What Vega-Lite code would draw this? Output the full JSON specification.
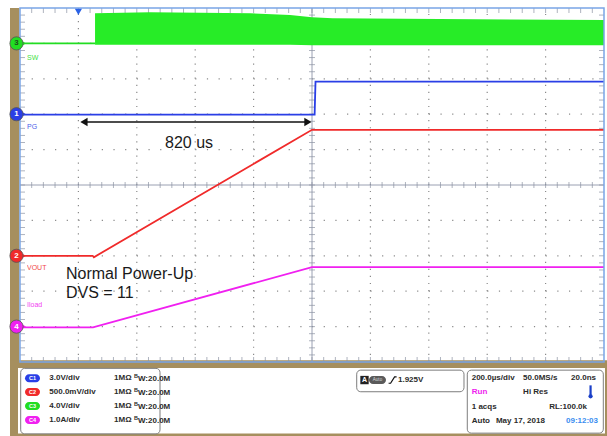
{
  "$schema": "https://vega.github.io/schema/vega-lite/v6.json",
  "width": 584,
  "height": 354,
  "autosize": {"type": "none"},
  "padding": {"left": 20, "top": 8, "right": 3, "bottom": 74},
  "background": "white",
  "config": {"view": {"stroke": null}},
  "datasets": {
    "frame": [
      {"t1": -34.25, "t2": -2, "v1": 5.0, "v2": -7.2},
      {"t1": -34.25, "t2": 2020, "v1": -4.95, "v2": -7.2}
    ],
    "panel": [{"t1": -6.85, "t2": 2003.4, "v1": -5.17, "v2": -7.02}],
    "boxes": [
      {"t1": 2.4, "t2": 479.5, "v1": -5.18, "v2": -7.03},
      {"t1": 1153.1, "t2": 1520.5, "v1": -5.23, "v2": -5.84},
      {"t1": 1531.8, "t2": 1997.6, "v1": -5.23, "v2": -7.01}
    ],
    "vgrid": [{"t": 200}, {"t": 400}, {"t": 600}, {"t": 800}, {"t": 1200}, {"t": 1400}, {"t": 1600}, {"t": 1800}],
    "hgrid": [{"v": -4}, {"v": -3}, {"v": -2}, {"v": -1}, {"v": 1}, {"v": 2}, {"v": 3}, {"v": 4}],
    "xticks": [{"t":40},{"t":80},{"t":120},{"t":160},{"t":200},{"t":240},{"t":280},{"t":320},{"t":360},{"t":400},{"t":440},{"t":480},{"t":520},{"t":560},{"t":600},{"t":640},{"t":680},{"t":720},{"t":760},{"t":800},{"t":840},{"t":880},{"t":920},{"t":960},{"t":1000},{"t":1040},{"t":1080},{"t":1120},{"t":1160},{"t":1200},{"t":1240},{"t":1280},{"t":1320},{"t":1360},{"t":1400},{"t":1440},{"t":1480},{"t":1520},{"t":1560},{"t":1600},{"t":1640},{"t":1680},{"t":1720},{"t":1760},{"t":1800},{"t":1840},{"t":1880},{"t":1920},{"t":1960}],
    "yticks": [{"v":-4.8},{"v":-4.6},{"v":-4.4},{"v":-4.2},{"v":-4},{"v":-3.8},{"v":-3.6},{"v":-3.4},{"v":-3.2},{"v":-3},{"v":-2.8},{"v":-2.6},{"v":-2.4},{"v":-2.2},{"v":-2},{"v":-1.8},{"v":-1.6},{"v":-1.4},{"v":-1.2},{"v":-1},{"v":-0.8},{"v":-0.6},{"v":-0.4},{"v":-0.2},{"v":0},{"v":0.2},{"v":0.4},{"v":0.6},{"v":0.8},{"v":1},{"v":1.2},{"v":1.4},{"v":1.6},{"v":1.8},{"v":2},{"v":2.2},{"v":2.4},{"v":2.6},{"v":2.8},{"v":3},{"v":3.2},{"v":3.4},{"v":3.6},{"v":3.8},{"v":4},{"v":4.2},{"v":4.4},{"v":4.6},{"v":4.8}],
    "swband": [
      {"t": 257, "top": 4.85, "bot": 3.96},
      {"t": 445, "top": 4.88, "bot": 3.96},
      {"t": 788, "top": 4.85, "bot": 3.96},
      {"t": 925, "top": 4.8, "bot": 3.96},
      {"t": 1000, "top": 4.74, "bot": 3.95},
      {"t": 1070, "top": 4.71, "bot": 3.95},
      {"t": 2000, "top": 4.66, "bot": 3.95}
    ],
    "traces": [
      {"ch": "SW", "t": 0, "v": 4.0},
      {"ch": "SW", "t": 257, "v": 4.0},
      {"ch": "PG", "t": 0, "v": 1.99},
      {"ch": "PG", "t": 1009, "v": 1.99},
      {"ch": "PG", "t": 1012, "v": 2.92},
      {"ch": "PG", "t": 2000, "v": 2.92},
      {"ch": "VOUT", "t": 0, "v": -2.0},
      {"ch": "VOUT", "t": 249, "v": -2.0},
      {"ch": "VOUT", "t": 253, "v": -2.04},
      {"ch": "VOUT", "t": 1000, "v": 1.56},
      {"ch": "VOUT", "t": 2000, "v": 1.56},
      {"ch": "Iload", "t": 0, "v": -4.02},
      {"ch": "Iload", "t": 250, "v": -4.02},
      {"ch": "Iload", "t": 1000, "v": -2.32},
      {"ch": "Iload", "t": 2000, "v": -2.32}
    ],
    "notes": [
      {"t": 496.6, "v": 1.19, "text": "820 us"},
      {"t": 157.5, "v": -2.51, "text": "Normal Power-Up"},
      {"t": 157.5, "v": -3.05, "text": "DVS = 11"}
    ],
    "chlabels": [
      {"ch": "SW", "t": 24, "v": 3.59, "text": "SW"},
      {"ch": "PG", "t": 24, "v": 1.63, "text": "PG"},
      {"ch": "VOUT", "t": 24, "v": -2.34, "text": "VOUT"},
      {"ch": "Iload", "t": 24, "v": -3.39, "text": "Iload"}
    ],
    "markers": [
      {"ch": "SW", "num": "3", "v": 4.0},
      {"ch": "PG", "num": "1", "v": 2.0},
      {"ch": "VOUT", "num": "2", "v": -2.0},
      {"ch": "Iload", "num": "4", "v": -4.0}
    ],
    "settings": [
      {"ch": "PG", "lab": "C1", "v": -5.46, "a": "3.0V/div"},
      {"ch": "VOUT", "lab": "C2", "v": -5.85, "a": "500.0mV/div"},
      {"ch": "SW", "lab": "C3", "v": -6.24, "a": "4.0V/div"},
      {"ch": "Iload", "lab": "C4", "v": -6.64, "a": "1.0A/div"}
    ],
    "infoLeft": [
      {"t": 1547, "v": -5.46, "text": "200.0µs/div", "k": "n"},
      {"t": 1723, "v": -5.46, "text": "50.0MS/s", "k": "n"},
      {"t": 1547, "v": -5.86, "text": "Run", "k": "run"},
      {"t": 1723, "v": -5.86, "text": "Hi Res", "k": "n"},
      {"t": 1547, "v": -6.26, "text": "1 acqs", "k": "n"},
      {"t": 1547, "v": -6.66, "text": "Auto", "k": "n"},
      {"t": 1630, "v": -6.66, "text": "May 17, 2018", "k": "n"},
      {"t": 1294.5, "v": -5.51, "text": "1.925V", "k": "n"}
    ],
    "infoRight": [
      {"t": 1972.6, "v": -5.46, "text": "20.0ns", "k": "n"},
      {"t": 1941.8, "v": -6.26, "text": "RL:100.0k", "k": "n"},
      {"t": 1979.5, "v": -6.66, "text": "09:12:03", "k": "time"}
    ]
  },
  "layer": [
    {
      "data": {"name": "frame"},
      "mark": {"type": "rect", "color": "#a68f5e"},
      "encoding": {
        "x": {"field": "t1", "type": "quantitative", "scale": {"domain": [0, 2000], "nice": false, "zero": false}, "axis": null},
        "x2": {"field": "t2"},
        "y": {"field": "v1", "type": "quantitative", "scale": {"domain": [-5, 5], "nice": false, "zero": false}, "axis": null},
        "y2": {"field": "v2"}
      }
    },
    {
      "data": {"name": "panel"},
      "mark": {"type": "rect", "color": "#ffffff"},
      "encoding": {
        "x": {"field": "t1", "type": "quantitative", "scale": {"domain": [0, 2000], "nice": false, "zero": false}, "axis": null},
        "x2": {"field": "t2"},
        "y": {"field": "v1", "type": "quantitative", "scale": {"domain": [-5, 5], "nice": false, "zero": false}, "axis": null},
        "y2": {"field": "v2"}
      }
    },
    {
      "data": {"name": "boxes"},
      "mark": {"type": "rect", "fill": "#ffffff", "stroke": "#7d7d7d", "strokeWidth": 1, "cornerRadius": 4},
      "encoding": {
        "x": {"field": "t1", "type": "quantitative", "scale": {"domain": [0, 2000], "nice": false, "zero": false}, "axis": null},
        "x2": {"field": "t2"},
        "y": {"field": "v1", "type": "quantitative", "scale": {"domain": [-5, 5], "nice": false, "zero": false}, "axis": null},
        "y2": {"field": "v2"}
      }
    },
    {
      "data": {"name": "vgrid"},
      "mark": {"type": "rule", "color": "#8a8a8a", "strokeWidth": 1.2, "strokeDash": [1.2, 5.88]},
      "encoding": {
        "x": {"field": "t", "type": "quantitative", "scale": {"domain": [0, 2000], "nice": false, "zero": false}, "axis": null},
        "y": {"datum": -5, "type": "quantitative", "scale": {"domain": [-5, 5], "nice": false, "zero": false}, "axis": null},
        "y2": {"datum": 5}
      }
    },
    {
      "data": {"name": "hgrid"},
      "mark": {"type": "rule", "color": "#8a8a8a", "strokeWidth": 1.2, "strokeDash": [1.2, 10.48]},
      "encoding": {
        "y": {"field": "v", "type": "quantitative", "scale": {"domain": [-5, 5], "nice": false, "zero": false}, "axis": null},
        "x": {"datum": 0, "type": "quantitative", "scale": {"domain": [0, 2000], "nice": false, "zero": false}, "axis": null},
        "x2": {"datum": 2000}
      }
    },
    {
      "data": {"values": [{}]},
      "mark": {"type": "rule", "color": "#9aa0b2", "strokeWidth": 1},
      "encoding": {
        "x": {"datum": 1000, "type": "quantitative", "scale": {"domain": [0, 2000], "nice": false, "zero": false}, "axis": null},
        "y": {"datum": -5, "type": "quantitative", "scale": {"domain": [-5, 5], "nice": false, "zero": false}, "axis": null},
        "y2": {"datum": 5}
      }
    },
    {
      "data": {"values": [{}]},
      "mark": {"type": "rule", "color": "#9aa0b2", "strokeWidth": 1},
      "encoding": {
        "y": {"datum": 0, "type": "quantitative", "scale": {"domain": [-5, 5], "nice": false, "zero": false}, "axis": null},
        "x": {"datum": 0, "type": "quantitative", "scale": {"domain": [0, 2000], "nice": false, "zero": false}, "axis": null},
        "x2": {"datum": 2000}
      }
    },
    {
      "data": {"name": "xticks"},
      "mark": {"type": "tick", "orient": "vertical", "thickness": 1, "yOffset": 2.5, "color": "#8c93a3"},
      "encoding": {
        "x": {"field": "t", "type": "quantitative", "scale": {"domain": [0, 2000], "nice": false, "zero": false}, "axis": null},
        "y": {"datum": 5, "type": "quantitative", "scale": {"domain": [-5, 5], "nice": false, "zero": false}, "axis": null},
        "size": {"value": 5}
      }
    },
    {
      "data": {"name": "xticks"},
      "mark": {"type": "tick", "orient": "vertical", "thickness": 1, "yOffset": -2.5, "color": "#8c93a3"},
      "encoding": {
        "x": {"field": "t", "type": "quantitative", "scale": {"domain": [0, 2000], "nice": false, "zero": false}, "axis": null},
        "y": {"datum": -5, "type": "quantitative", "scale": {"domain": [-5, 5], "nice": false, "zero": false}, "axis": null},
        "size": {"value": 5}
      }
    },
    {
      "data": {"name": "xticks"},
      "mark": {"type": "tick", "orient": "vertical", "thickness": 1, "color": "#8c93a3"},
      "encoding": {
        "x": {"field": "t", "type": "quantitative", "scale": {"domain": [0, 2000], "nice": false, "zero": false}, "axis": null},
        "y": {"datum": 0, "type": "quantitative", "scale": {"domain": [-5, 5], "nice": false, "zero": false}, "axis": null},
        "size": {"value": 6}
      }
    },
    {
      "data": {"name": "yticks"},
      "mark": {"type": "tick", "orient": "horizontal", "thickness": 1, "xOffset": 2.5, "color": "#8c93a3"},
      "encoding": {
        "y": {"field": "v", "type": "quantitative", "scale": {"domain": [-5, 5], "nice": false, "zero": false}, "axis": null},
        "x": {"datum": 0, "type": "quantitative", "scale": {"domain": [0, 2000], "nice": false, "zero": false}, "axis": null},
        "size": {"value": 5}
      }
    },
    {
      "data": {"name": "yticks"},
      "mark": {"type": "tick", "orient": "horizontal", "thickness": 1, "xOffset": -2.5, "color": "#8c93a3"},
      "encoding": {
        "y": {"field": "v", "type": "quantitative", "scale": {"domain": [-5, 5], "nice": false, "zero": false}, "axis": null},
        "x": {"datum": 2000, "type": "quantitative", "scale": {"domain": [0, 2000], "nice": false, "zero": false}, "axis": null},
        "size": {"value": 5}
      }
    },
    {
      "data": {"name": "yticks"},
      "mark": {"type": "tick", "orient": "horizontal", "thickness": 1, "color": "#8c93a3"},
      "encoding": {
        "y": {"field": "v", "type": "quantitative", "scale": {"domain": [-5, 5], "nice": false, "zero": false}, "axis": null},
        "x": {"datum": 1000, "type": "quantitative", "scale": {"domain": [0, 2000], "nice": false, "zero": false}, "axis": null},
        "size": {"value": 6}
      }
    },
    {
      "data": {"name": "swband"},
      "mark": {"type": "area", "color": "#27ec27", "opacity": 1},
      "encoding": {
        "x": {"field": "t", "type": "quantitative", "scale": {"domain": [0, 2000], "nice": false, "zero": false}, "axis": null},
        "y": {"field": "top", "type": "quantitative", "scale": {"domain": [-5, 5], "nice": false, "zero": false}, "axis": null},
        "y2": {"field": "bot"}
      }
    },
    {
      "data": {"name": "traces"},
      "mark": {"type": "line", "strokeWidth": 1.8},
      "encoding": {
        "x": {"field": "t", "type": "quantitative", "scale": {"domain": [0, 2000], "nice": false, "zero": false}, "axis": null},
        "y": {"field": "v", "type": "quantitative", "scale": {"domain": [-5, 5], "nice": false, "zero": false}, "axis": null},
        "color": {"field": "ch", "type": "nominal", "scale": {"domain": ["SW", "PG", "VOUT", "Iload"], "range": ["#22dd22", "#2a3fe6", "#f02a2a", "#f020f0"]}, "legend": null}
      }
    },
    {
      "data": {"values": [{}]},
      "mark": {"type": "rule", "color": "#111111", "strokeWidth": 1.5},
      "encoding": {
        "x": {"datum": 222, "type": "quantitative", "scale": {"domain": [0, 2000], "nice": false, "zero": false}, "axis": null},
        "x2": {"datum": 984},
        "y": {"datum": 1.78, "type": "quantitative", "scale": {"domain": [-5, 5], "nice": false, "zero": false}, "axis": null}
      }
    },
    {
      "data": {"values": [{}]},
      "mark": {"type": "point", "shape": "triangle-left", "filled": true, "size": 70, "color": "#111111", "opacity": 1},
      "encoding": {
        "x": {"datum": 219, "type": "quantitative", "scale": {"domain": [0, 2000], "nice": false, "zero": false}, "axis": null},
        "y": {"datum": 1.78, "type": "quantitative", "scale": {"domain": [-5, 5], "nice": false, "zero": false}, "axis": null}
      }
    },
    {
      "data": {"values": [{}]},
      "mark": {"type": "point", "shape": "triangle-right", "filled": true, "size": 70, "color": "#111111", "opacity": 1},
      "encoding": {
        "x": {"datum": 986, "type": "quantitative", "scale": {"domain": [0, 2000], "nice": false, "zero": false}, "axis": null},
        "y": {"datum": 1.78, "type": "quantitative", "scale": {"domain": [-5, 5], "nice": false, "zero": false}, "axis": null}
      }
    },
    {
      "data": {"name": "notes"},
      "mark": {"type": "text", "align": "left", "baseline": "middle", "font": "Liberation Sans, Arial, sans-serif", "fontSize": 16, "color": "#1a1a1a"},
      "encoding": {
        "x": {"field": "t", "type": "quantitative", "scale": {"domain": [0, 2000], "nice": false, "zero": false}, "axis": null},
        "y": {"field": "v", "type": "quantitative", "scale": {"domain": [-5, 5], "nice": false, "zero": false}, "axis": null},
        "text": {"field": "text"}
      }
    },
    {
      "data": {"name": "chlabels"},
      "mark": {"type": "text", "align": "left", "baseline": "middle", "font": "Liberation Sans Narrow, Liberation Sans, sans-serif", "fontSize": 7, "opacity": 0.85},
      "encoding": {
        "x": {"field": "t", "type": "quantitative", "scale": {"domain": [0, 2000], "nice": false, "zero": false}, "axis": null},
        "y": {"field": "v", "type": "quantitative", "scale": {"domain": [-5, 5], "nice": false, "zero": false}, "axis": null},
        "text": {"field": "text"},
        "color": {"field": "ch", "type": "nominal", "legend": null}
      }
    },
    {
      "data": {"values": [{}]},
      "mark": {"type": "rect", "fill": null, "stroke": "#7aa5e6", "strokeWidth": 1.5},
      "encoding": {
        "x": {"datum": 0, "type": "quantitative", "scale": {"domain": [0, 2000], "nice": false, "zero": false}, "axis": null},
        "x2": {"datum": 2000},
        "y": {"datum": -5, "type": "quantitative", "scale": {"domain": [-5, 5], "nice": false, "zero": false}, "axis": null},
        "y2": {"datum": 5}
      }
    },
    {
      "data": {"name": "markers"},
      "mark": {"type": "point", "shape": "triangle-right", "filled": true, "size": 18, "opacity": 1},
      "encoding": {
        "x": {"datum": 14, "type": "quantitative", "scale": {"domain": [0, 2000], "nice": false, "zero": false}, "axis": null},
        "y": {"field": "v", "type": "quantitative", "scale": {"domain": [-5, 5], "nice": false, "zero": false}, "axis": null},
        "color": {"field": "ch", "type": "nominal", "legend": null}
      }
    },
    {
      "data": {"name": "markers"},
      "mark": {"type": "point", "shape": "circle", "filled": true, "size": 175, "opacity": 1, "stroke": "#555555", "strokeWidth": 0.8},
      "encoding": {
        "x": {"datum": -12, "type": "quantitative", "scale": {"domain": [0, 2000], "nice": false, "zero": false}, "axis": null},
        "y": {"field": "v", "type": "quantitative", "scale": {"domain": [-5, 5], "nice": false, "zero": false}, "axis": null},
        "color": {"field": "ch", "type": "nominal", "legend": null}
      }
    },
    {
      "data": {"name": "markers"},
      "transform": [{"filter": "datum.ch != 'SW'"}],
      "mark": {"type": "text", "align": "center", "baseline": "middle", "font": "Liberation Sans, sans-serif", "fontSize": 8, "fontWeight": "bold", "color": "#ffffff"},
      "encoding": {
        "x": {"datum": -12, "type": "quantitative", "scale": {"domain": [0, 2000], "nice": false, "zero": false}, "axis": null},
        "y": {"field": "v", "type": "quantitative", "scale": {"domain": [-5, 5], "nice": false, "zero": false}, "axis": null},
        "text": {"field": "num"}
      }
    },
    {
      "data": {"name": "markers"},
      "transform": [{"filter": "datum.ch == 'SW'"}],
      "mark": {"type": "text", "align": "center", "baseline": "middle", "font": "Liberation Sans, sans-serif", "fontSize": 8, "fontWeight": "bold", "color": "#1d4d1d"},
      "encoding": {
        "x": {"datum": -12, "type": "quantitative", "scale": {"domain": [0, 2000], "nice": false, "zero": false}, "axis": null},
        "y": {"field": "v", "type": "quantitative", "scale": {"domain": [-5, 5], "nice": false, "zero": false}, "axis": null},
        "text": {"field": "num"}
      }
    },
    {
      "data": {"values": [{}]},
      "mark": {"type": "point", "shape": "triangle-down", "filled": true, "size": 50, "color": "#2a62e6", "opacity": 1},
      "encoding": {
        "x": {"datum": 200, "type": "quantitative", "scale": {"domain": [0, 2000], "nice": false, "zero": false}, "axis": null},
        "y": {"datum": 4.89, "type": "quantitative", "scale": {"domain": [-5, 5], "nice": false, "zero": false}, "axis": null}
      }
    },
    {
      "data": {"name": "settings"},
      "mark": {"type": "point", "shape": "M-0.467,-0.533L0.467,-0.533A0.533,0.533,0,0,1,0.467,0.533L-0.467,0.533A0.533,0.533,0,0,1,-0.467,-0.533Z", "filled": true, "size": 225, "opacity": 1},
      "encoding": {
        "x": {"datum": 42.8, "type": "quantitative", "scale": {"domain": [0, 2000], "nice": false, "zero": false}, "axis": null},
        "y": {"field": "v", "type": "quantitative", "scale": {"domain": [-5, 5], "nice": false, "zero": false}, "axis": null},
        "color": {"field": "ch", "type": "nominal", "legend": null}
      }
    },
    {
      "data": {"name": "settings"},
      "mark": {"type": "text", "align": "center", "baseline": "middle", "font": "Liberation Sans, sans-serif", "fontSize": 5.5, "fontWeight": "bold", "color": "#ffffff"},
      "encoding": {
        "x": {"datum": 42.8, "type": "quantitative", "scale": {"domain": [0, 2000], "nice": false, "zero": false}, "axis": null},
        "y": {"field": "v", "type": "quantitative", "scale": {"domain": [-5, 5], "nice": false, "zero": false}, "axis": null},
        "text": {"field": "lab"}
      }
    },
    {
      "data": {"name": "settings"},
      "mark": {"type": "text", "align": "left", "baseline": "middle", "font": "Liberation Sans Narrow, Arial Narrow, Liberation Sans, sans-serif", "fontSize": 8, "fontWeight": "bold", "color": "#2b2b2b"},
      "encoding": {
        "x": {"datum": 100.5, "type": "quantitative", "scale": {"domain": [0, 2000], "nice": false, "zero": false}, "axis": null},
        "y": {"field": "v", "type": "quantitative", "scale": {"domain": [-5, 5], "nice": false, "zero": false}, "axis": null},
        "text": {"field": "a"}
      }
    },
    {
      "data": {"name": "settings"},
      "mark": {"type": "text", "align": "left", "baseline": "middle", "font": "Liberation Sans Narrow, Arial Narrow, Liberation Sans, sans-serif", "fontSize": 8, "fontWeight": "bold", "color": "#2b2b2b"},
      "encoding": {
        "x": {"datum": 322, "type": "quantitative", "scale": {"domain": [0, 2000], "nice": false, "zero": false}, "axis": null},
        "y": {"field": "v", "type": "quantitative", "scale": {"domain": [-5, 5], "nice": false, "zero": false}, "axis": null},
        "text": {"value": "1MΩ"}
      }
    },
    {
      "data": {"name": "settings"},
      "mark": {"type": "text", "align": "left", "baseline": "middle", "dy": -2, "font": "Liberation Sans Narrow, Arial Narrow, Liberation Sans, sans-serif", "fontSize": 5.5, "fontWeight": "bold", "color": "#2b2b2b"},
      "encoding": {
        "x": {"datum": 390, "type": "quantitative", "scale": {"domain": [0, 2000], "nice": false, "zero": false}, "axis": null},
        "y": {"field": "v", "type": "quantitative", "scale": {"domain": [-5, 5], "nice": false, "zero": false}, "axis": null},
        "text": {"value": "B"}
      }
    },
    {
      "data": {"name": "settings"},
      "mark": {"type": "text", "align": "left", "baseline": "middle", "dy": 1, "font": "Liberation Sans Narrow, Arial Narrow, Liberation Sans, sans-serif", "fontSize": 8, "fontWeight": "bold", "color": "#2b2b2b"},
      "encoding": {
        "x": {"datum": 404, "type": "quantitative", "scale": {"domain": [0, 2000], "nice": false, "zero": false}, "axis": null},
        "y": {"field": "v", "type": "quantitative", "scale": {"domain": [-5, 5], "nice": false, "zero": false}, "axis": null},
        "text": {"value": "W:20.0M"}
      }
    },
    {
      "data": {"values": [{}]},
      "mark": {"type": "point", "shape": "square", "filled": true, "size": 70, "color": "#222222", "opacity": 1},
      "encoding": {
        "x": {"datum": 1179.8, "type": "quantitative", "scale": {"domain": [0, 2000], "nice": false, "zero": false}, "axis": null},
        "y": {"datum": -5.51, "type": "quantitative", "scale": {"domain": [-5, 5], "nice": false, "zero": false}, "axis": null}
      }
    },
    {
      "data": {"values": [{}]},
      "mark": {"type": "text", "align": "center", "baseline": "middle", "font": "Liberation Sans, sans-serif", "fontSize": 7, "fontWeight": "bold", "color": "#ffffff"},
      "encoding": {
        "x": {"datum": 1179.8, "type": "quantitative", "scale": {"domain": [0, 2000], "nice": false, "zero": false}, "axis": null},
        "y": {"datum": -5.51, "type": "quantitative", "scale": {"domain": [-5, 5], "nice": false, "zero": false}, "axis": null},
        "text": {"value": "A"}
      }
    },
    {
      "data": {"values": [{}]},
      "mark": {"type": "point", "shape": "M-0.53,-0.47L0.53,-0.47A0.47,0.47,0,0,1,0.53,0.47L-0.53,0.47A0.47,0.47,0,0,1,-0.53,-0.47Z", "filled": true, "size": 289, "color": "#5a5a5a", "opacity": 1},
      "encoding": {
        "x": {"datum": 1224.3, "type": "quantitative", "scale": {"domain": [0, 2000], "nice": false, "zero": false}, "axis": null},
        "y": {"datum": -5.51, "type": "quantitative", "scale": {"domain": [-5, 5], "nice": false, "zero": false}, "axis": null}
      }
    },
    {
      "data": {"values": [{}]},
      "mark": {"type": "text", "align": "center", "baseline": "middle", "font": "Liberation Sans, sans-serif", "fontSize": 4.5, "color": "#dddddd"},
      "encoding": {
        "x": {"datum": 1224.3, "type": "quantitative", "scale": {"domain": [0, 2000], "nice": false, "zero": false}, "axis": null},
        "y": {"datum": -5.51, "type": "quantitative", "scale": {"domain": [-5, 5], "nice": false, "zero": false}, "axis": null},
        "text": {"value": "Auto"}
      }
    },
    {
      "data": {"values": [{}]},
      "mark": {"type": "point", "shape": "M-1,0.8L-0.5,0.8L0.5,-0.8L1,-0.8", "filled": false, "size": 64, "stroke": "#111111", "strokeWidth": 1.2, "opacity": 1},
      "encoding": {
        "x": {"datum": 1276, "type": "quantitative", "scale": {"domain": [0, 2000], "nice": false, "zero": false}, "axis": null},
        "y": {"datum": -5.51, "type": "quantitative", "scale": {"domain": [-5, 5], "nice": false, "zero": false}, "axis": null}
      }
    },
    {
      "data": {"name": "infoLeft"},
      "mark": {"type": "text", "align": "left", "baseline": "middle", "font": "Liberation Sans Narrow, Arial Narrow, Liberation Sans, sans-serif", "fontSize": 8, "fontWeight": "bold"},
      "encoding": {
        "x": {"field": "t", "type": "quantitative", "scale": {"domain": [0, 2000], "nice": false, "zero": false}, "axis": null},
        "y": {"field": "v", "type": "quantitative", "scale": {"domain": [-5, 5], "nice": false, "zero": false}, "axis": null},
        "text": {"field": "text"},
        "fill": {"field": "k", "type": "nominal", "scale": {"domain": ["n", "run", "time"], "range": ["#2b2b2b", "#ee22ee", "#3a8ef0"]}, "legend": null}
      }
    },
    {
      "data": {"name": "infoRight"},
      "mark": {"type": "text", "align": "right", "baseline": "middle", "font": "Liberation Sans Narrow, Arial Narrow, Liberation Sans, sans-serif", "fontSize": 8, "fontWeight": "bold"},
      "encoding": {
        "x": {"field": "t", "type": "quantitative", "scale": {"domain": [0, 2000], "nice": false, "zero": false}, "axis": null},
        "y": {"field": "v", "type": "quantitative", "scale": {"domain": [-5, 5], "nice": false, "zero": false}, "axis": null},
        "text": {"field": "text"},
        "fill": {"field": "k", "type": "nominal", "legend": null}
      }
    },
    {
      "data": {"values": [{}]},
      "mark": {"type": "rule", "color": "#1a3fc8", "strokeWidth": 2.2},
      "encoding": {
        "x": {"datum": 1954, "type": "quantitative", "scale": {"domain": [0, 2000], "nice": false, "zero": false}, "axis": null},
        "y": {"datum": -5.66, "type": "quantitative", "scale": {"domain": [-5, 5], "nice": false, "zero": false}, "axis": null},
        "y2": {"datum": -5.95}
      }
    },
    {
      "data": {"values": [{}]},
      "mark": {"type": "point", "shape": "circle", "filled": true, "size": 18, "color": "#1a3fc8", "opacity": 1},
      "encoding": {
        "x": {"datum": 1954, "type": "quantitative", "scale": {"domain": [0, 2000], "nice": false, "zero": false}, "axis": null},
        "y": {"datum": -5.97, "type": "quantitative", "scale": {"domain": [-5, 5], "nice": false, "zero": false}, "axis": null}
      }
    }
  ]
}
